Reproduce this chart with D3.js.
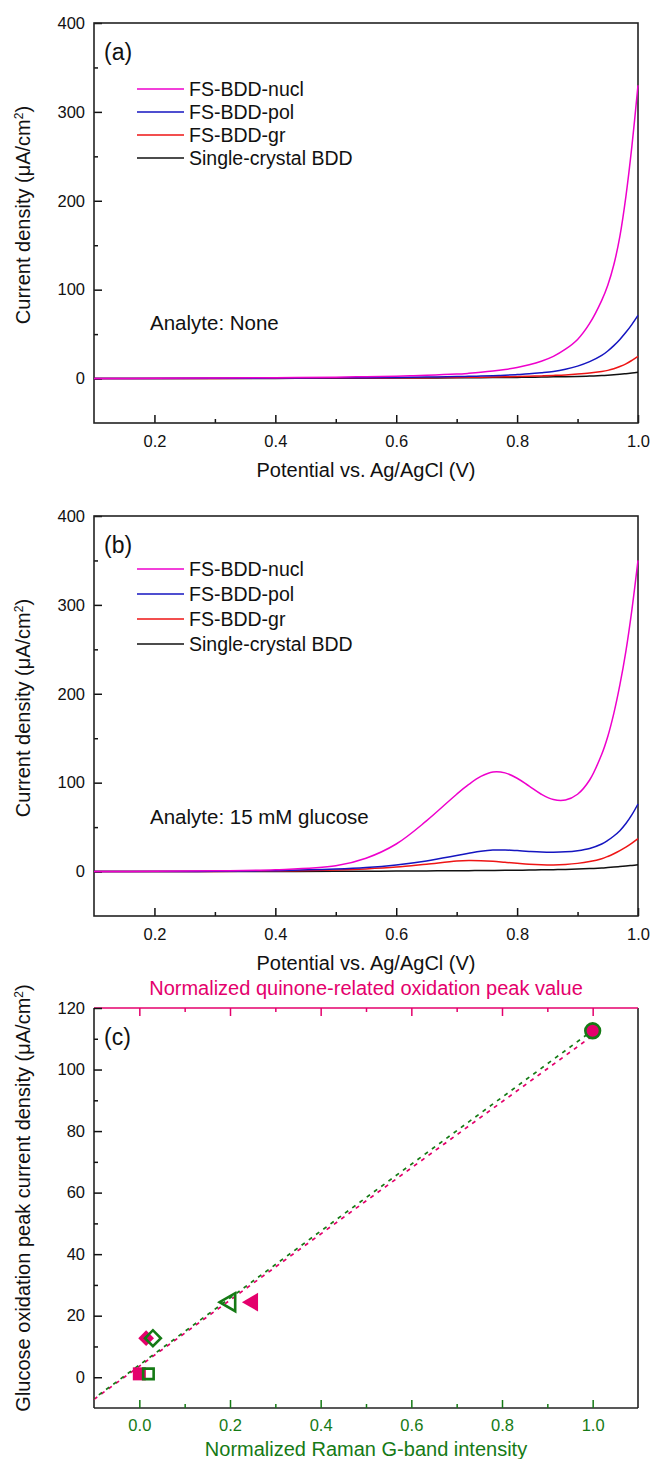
<!DOCTYPE html>
<html>
<head>
<meta charset="utf-8">
<script src="https://cdn.jsdelivr.net/npm/d3@7"></script>
<style>
  body { margin: 0; background: #fff; }
  text { font-family: "Liberation Sans", Arial, sans-serif; }
</style>
</head>
<body>
<script>
// SERIES
const seriesNames = ["FS-BDD-nucl", "FS-BDD-pol", "FS-BDD-gr", "Single-crystal BDD"];
const seriesColors = ["#EE00CC", "#1515C0", "#EE1515", "#111111"];

// POTENTIAL GRID (V) shared by panels (a) and (b)
const potential = [0.1, 0.2, 0.3, 0.4, 0.5, 0.55, 0.6, 0.65, 0.7, 0.72, 0.74, 0.76, 0.78, 0.8,
                   0.82, 0.84, 0.86, 0.88, 0.9, 0.92, 0.94, 0.95, 0.96, 0.97, 0.98, 0.99, 1.0];

// PANEL (a) - analyte none (uA/cm2)
const noneNucl = [0, 0.3, 0.6, 1.0, 1.6, 2.1, 2.7, 3.6, 5, 5.9, 7, 8.4, 10.2, 12.5,
                  15.5, 19.5, 25, 33, 44, 62, 88, 105, 128, 160, 205, 262, 330];
const nonePol  = [0, 0.1, 0.3, 0.5, 0.8, 1.0, 1.3, 1.7, 2.2, 2.5, 2.8, 3.2, 3.8, 4.5,
                  5.3, 6.5, 8, 10.5, 14, 19, 26, 31, 37, 44, 52, 61, 71];
const noneGr   = [0, 0.05, 0.15, 0.3, 0.5, 0.6, 0.8, 1.0, 1.2, 1.4, 1.6, 1.8, 2.0, 2.3,
                  2.6, 3.0, 3.5, 4.1, 5, 6.2, 8, 9.2, 11, 13.5, 16.5, 20.5, 25];
const noneSc   = [0, 0.05, 0.1, 0.2, 0.3, 0.4, 0.5, 0.6, 0.8, 0.9, 1.0, 1.1, 1.2, 1.3,
                  1.5, 1.7, 1.9, 2.1, 2.4, 2.8, 3.3, 3.7, 4.2, 4.8, 5.5, 6.2, 7];

// PANEL (b) - 15 mM glucose (uA/cm2)
const glucNucl = [0, 0.3, 0.8, 2, 6.5, 15, 31, 57, 87, 98, 107, 112, 111, 105,
                  96, 87, 81, 80.5, 87, 103, 132, 152, 178, 210, 248, 295, 350];
const glucPol  = [0, 0.1, 0.3, 1, 2.8, 4.5, 7.5, 12, 18, 20.5, 22.8, 24.2, 24.3, 23.6,
                  22.7, 22, 21.8, 22.2, 23.5, 26, 31, 35, 40, 46, 54, 64, 76];
const glucGr   = [0, 0.05, 0.2, 0.6, 1.8, 3, 5, 8.3, 11.8, 12.4, 12.2, 11.5, 10.4, 9.3,
                  8.3, 7.7, 7.5, 8, 9.2, 11.3, 14.5, 17, 20, 23.5, 27.5, 32, 37];
const glucSc   = [0, 0.05, 0.1, 0.15, 0.3, 0.4, 0.5, 0.7, 0.9, 1.0, 1.1, 1.2, 1.35, 1.5,
                  1.7, 1.9, 2.1, 2.4, 2.8, 3.3, 4.0, 4.5, 5.0, 5.6, 6.2, 6.9, 7.6];

// PANEL (c)
const ramanG = [0.02, 0.03, 0.2, 1.0];          // bottom axis, green open markers
const quinone = [0.0, 0.015, 0.25, 1.0];        // top axis, pink filled markers
const peakCurrent = [1.1, 12.7, 24.4, 112.6];   // glucose oxidation peak
const markerTypes = ["square", "diamond", "triangle", "circle"];

const pink = "#E4006C";
const green = "#157A15";

// LAYOUT
const left = 94, right = 638, plotH = 400;
const fmt1 = d3.format(".1f");

const svg = d3.select("body").append("svg")
  .attr("width", 651)
  .attr("height", 1459);

function styleAxis(g, color, size) {
  g.select(".domain").remove();
  g.attr("color", color)
   .attr("font-family", "Liberation Sans, Arial, sans-serif")
   .attr("font-size", size);
  g.selectAll("line").attr("stroke-width", 1.5);
}

function yLabel(cy, parts) {
  const t = svg.append("text")
    .attr("transform", `translate(30,${cy}) rotate(-90)`)
    .attr("text-anchor", "middle")
    .style("font-size", "20px")
    .attr("fill", "#111");
  t.append("tspan").text(parts + " (\u03BCA/cm");
  t.append("tspan").attr("baseline-shift", "super").style("font-size", "12px").text("2");
  t.append("tspan").text(")");
}

// CURRENT-POTENTIAL PANELS
function cvPanel(top, tag, curves, legendY, legendStep, analyte, analyteY) {
  const x = d3.scaleLinear().domain([0.1, 1.0]).range([left, right]);
  const y = d3.scaleLinear().domain([-50, 400]).range([top + plotH, top]);
  const bottom = top + plotH;

  // x axis major / minor, ticks inward
  const gx = svg.append("g").attr("transform", `translate(0,${bottom})`)
    .call(d3.axisBottom(x).tickValues([0.2, 0.4, 0.6, 0.8, 1.0]).tickSize(-8).tickPadding(12).tickFormat(fmt1));
  styleAxis(gx, "#111", "16.5px");
  const gxm = svg.append("g").attr("transform", `translate(0,${bottom})`)
    .call(d3.axisBottom(x).tickValues([0.3, 0.5, 0.7, 0.9]).tickSize(-4).tickFormat(""));
  styleAxis(gxm, "#111", "16.5px");

  const gy = svg.append("g").attr("transform", `translate(${left},0)`)
    .call(d3.axisLeft(y).tickValues([0, 100, 200, 300, 400]).tickSize(-8).tickPadding(9));
  styleAxis(gy, "#111", "16.5px");
  const gym = svg.append("g").attr("transform", `translate(${left},0)`)
    .call(d3.axisLeft(y).tickValues([50, 150, 250, 350]).tickSize(-4).tickFormat(""));
  styleAxis(gym, "#111", "16.5px");

  // frame
  svg.append("rect")
    .attr("x", left).attr("y", top)
    .attr("width", right - left).attr("height", plotH)
    .attr("fill", "none").attr("stroke", "#222").attr("stroke-width", 1.6);

  // curves
  const line = d3.line()
    .x((d, i) => x(potential[i]))
    .y(d => y(d))
    .curve(d3.curveCatmullRom.alpha(0.5));
  curves.slice().reverse().forEach((c, k) => {
    const i = curves.length - 1 - k;
    svg.append("path")
      .datum(c)
      .attr("fill", "none")
      .attr("stroke", seriesColors[i])
      .attr("stroke-width", 1.5)
      .attr("d", line);
  });

  // panel tag
  svg.append("text").attr("x", left + 10).attr("y", top + 37)
    .style("font-size", "23px").attr("fill", "#111").text(tag);

  // legend
  seriesNames.forEach((n, i) => {
    const ly = legendY + i * legendStep;
    svg.append("line")
      .attr("x1", 137).attr("x2", 184).attr("y1", ly).attr("y2", ly)
      .attr("stroke", seriesColors[i]).attr("stroke-width", 1.5);
    svg.append("text").attr("x", 189).attr("y", ly + 7)
      .style("font-size", "19.5px").attr("fill", "#111").text(n);
  });

  svg.append("text").attr("x", 150).attr("y", analyteY)
    .style("font-size", "20.5px").attr("fill", "#111").text(analyte);

  svg.append("text").attr("x", (left + right) / 2).attr("y", bottom + 54)
    .attr("text-anchor", "middle").style("font-size", "20px").attr("fill", "#111")
    .text("Potential vs. Ag/AgCl (V)");

  yLabel(top + plotH / 2 - 8, "Current density");
}

cvPanel(23, "(a)", [noneNucl, nonePol, noneGr, noneSc], 89, 23, "Analyte: None", 330);
cvPanel(516, "(b)", [glucNucl, glucPol, glucGr, glucSc], 569, 25, "Analyte: 15 mM glucose", 824);

// PANEL (c)
(function () {
  const top = 1008, bottom = top + plotH;
  const x = d3.scaleLinear().domain([-0.1, 1.1]).range([left, right]);
  const y = d3.scaleLinear().domain([-10, 120]).range([bottom, top]);

  // frame: left + right black, bottom dark, top pink
  svg.append("line").attr("x1", left).attr("x2", left).attr("y1", top).attr("y2", bottom)
    .attr("stroke", "#222").attr("stroke-width", 1.6);
  svg.append("line").attr("x1", right).attr("x2", right).attr("y1", top).attr("y2", bottom)
    .attr("stroke", "#222").attr("stroke-width", 1.6);
  svg.append("line").attr("x1", left).attr("x2", right).attr("y1", bottom).attr("y2", bottom)
    .attr("stroke", "#222").attr("stroke-width", 1.6);
  svg.append("line").attr("x1", left).attr("x2", right).attr("y1", top).attr("y2", top)
    .attr("stroke", pink).attr("stroke-width", 1.6);

  const major = [0, 0.2, 0.4, 0.6, 0.8, 1.0];
  const minor = [0.1, 0.3, 0.5, 0.7, 0.9];

  const gx = svg.append("g").attr("transform", `translate(0,${bottom})`)
    .call(d3.axisBottom(x).tickValues(major).tickSize(-8).tickPadding(11).tickFormat(fmt1));
  styleAxis(gx, green, "16.5px");
  const gxm = svg.append("g").attr("transform", `translate(0,${bottom})`)
    .call(d3.axisBottom(x).tickValues(minor).tickSize(-4).tickFormat(""));
  styleAxis(gxm, green, "16.5px");

  const gt = svg.append("g").attr("transform", `translate(0,${top})`)
    .call(d3.axisTop(x).tickValues(major).tickSize(-8).tickFormat(""));
  styleAxis(gt, pink, "16.5px");
  const gtm = svg.append("g").attr("transform", `translate(0,${top})`)
    .call(d3.axisTop(x).tickValues(minor).tickSize(-4).tickFormat(""));
  styleAxis(gtm, pink, "16.5px");

  const gy = svg.append("g").attr("transform", `translate(${left},0)`)
    .call(d3.axisLeft(y).tickValues(d3.range(0, 121, 20)).tickSize(-8).tickPadding(9));
  styleAxis(gy, "#111", "16.5px");
  const gym = svg.append("g").attr("transform", `translate(${left},0)`)
    .call(d3.axisLeft(y).tickValues(d3.range(10, 120, 20)).tickSize(-4).tickFormat(""));
  styleAxis(gym, "#111", "16.5px");

  // linear fits
  function fit(xs, ys) {
    const mx = d3.mean(xs), my = d3.mean(ys);
    const sxy = d3.sum(xs, (v, i) => (v - mx) * (ys[i] - my));
    const sxx = d3.sum(xs, v => (v - mx) * (v - mx));
    const b = sxy / sxx;
    return [b, my - b * mx];
  }
  const ends = [-0.1, 1.0];
  [[quinone, pink, 0, 0.5], [ramanG, green, 3, -0.8]].forEach(([xs, col, off, shift]) => {
    const [b, a] = fit(xs, peakCurrent);
    svg.append("path")
      .datum(ends)
      .attr("fill", "none")
      .attr("stroke", col)
      .attr("stroke-width", 1.7)
      .attr("stroke-dasharray", "4,5")
      .attr("stroke-dashoffset", off)
      .attr("transform", `translate(0,${shift})`)
      .attr("d", d3.line().x(d => x(d)).y(d => y(a + b * d)));
  });

  function marker(type, cx, cy, filled, col) {
    let path, rot = 0;
    if (type === "square") { path = d3.symbol(d3.symbolSquare, filled ? 170 : 110)(); }
    if (type === "diamond") { path = d3.symbol(d3.symbolSquare, filled ? 125 : 125)(); rot = 45; }
    if (type === "triangle") { path = d3.symbol(d3.symbolTriangle, filled ? 150 : 140)(); rot = -90; }
    if (type === "circle") { path = d3.symbol(d3.symbolCircle, 170)(); }
    svg.append("path")
      .attr("d", path)
      .attr("transform", `translate(${cx},${cy}) rotate(${rot})`)
      .attr("fill", filled ? col : "none")
      .attr("stroke", filled ? "none" : col)
      .attr("stroke-width", 2.6);
  }

  markerTypes.forEach((t, i) => {
    marker(t, x(quinone[i]), y(peakCurrent[i]), true, pink);
  });
  markerTypes.forEach((t, i) => {
    marker(t, x(ramanG[i]), y(peakCurrent[i]), false, green);
  });

  svg.append("text").attr("x", left + 10).attr("y", top + 37)
    .style("font-size", "23px").attr("fill", "#111").text("(c)");

  svg.append("text").attr("x", (left + right) / 2).attr("y", top - 13)
    .attr("text-anchor", "middle").style("font-size", "20px").attr("fill", pink)
    .text("Normalized quinone-related oxidation peak value");

  svg.append("text").attr("x", (left + right) / 2).attr("y", bottom + 48)
    .attr("text-anchor", "middle").style("font-size", "20px").attr("fill", green)
    .text("Normalized Raman G-band intensity");

  yLabel(top + plotH / 2 - 10, "Glucose oxidation peak current density");
})();
</script>
</body>
</html>
